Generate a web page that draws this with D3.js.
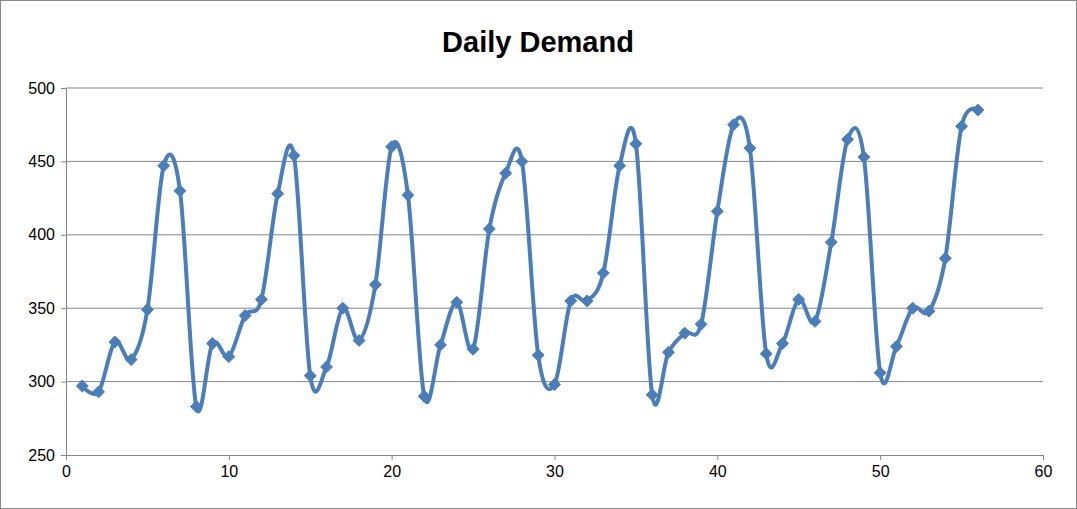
<!DOCTYPE html>
<html><head><meta charset="utf-8">
<script src="https://cdn.jsdelivr.net/npm/d3@7"></script>
<style>body{margin:0;background:#fff}</style></head>
<body><svg id="c" width="1077" height="509"></svg>
<script>
const title = "Daily Demand";
const days = d3.range(1, 57);
const demand = [297,293,327,315,349,447,430,283,326,317,345,356,428,454,304,310,350,328,366,460,427,290,325,354,322,404,442,450,318,298,355,355,374,447,462,291,320,333,339,416,475,459,319,326,356,341,395,465,453,306,324,350,348,384,474,485];
const xTicks = [0,10,20,30,40,50,60];
const yTicks = [250,300,350,400,450,500];
const color = "#4a7ebb";

const svg = d3.select("#c");
svg.append("rect").attr("x",0.5).attr("y",0.5).attr("width",1076).attr("height",508).attr("fill","#fff").attr("stroke","#888");
const x = d3.scaleLinear().domain([0,60]).range([66,1043]);
const y = d3.scaleLinear().domain([250,500]).range([455,88]);
const font = "Liberation Sans, Arial, sans-serif";

svg.append("text").attr("x",538).attr("y",52).attr("text-anchor","middle")
  .attr("font-family",font).attr("font-weight","bold").attr("font-size",29).text(title);

svg.append("g").selectAll("line").data(yTicks.slice(1)).join("line")
  .attr("x1",x(0)).attr("x2",x(60)).attr("y1",d=>y(d)).attr("y2",d=>y(d)).attr("stroke","#868686").attr("stroke-width",1);

const gx = svg.append("g").attr("transform",`translate(0,${y(250)})`)
  .call(d3.axisBottom(x).tickValues(xTicks).tickSize(5).tickPadding(6));
const gy = svg.append("g").attr("transform",`translate(${x(0)},0)`)
  .call(d3.axisLeft(y).tickValues(yTicks).tickSize(5).tickPadding(6));
[gx,gy].forEach(g=>{g.selectAll("path,line").attr("stroke","#868686");
  g.selectAll("text").attr("font-family",font).attr("font-size",16).attr("fill","#000");});

const pts = days.map((d,i)=>[x(d),y(demand[i])]);
svg.append("path").attr("d",d3.line().curve(d3.curveCardinal.tension(0))(pts))
  .attr("fill","none").attr("stroke",color).attr("stroke-width",4);
svg.append("g").selectAll("path").data(pts).join("path")
  .attr("transform",d=>`translate(${d[0]},${d[1]})`)
  .attr("d",d3.symbol(d3.symbolDiamond2,90)).attr("fill",color).attr("stroke",color);
</script></body></html>
